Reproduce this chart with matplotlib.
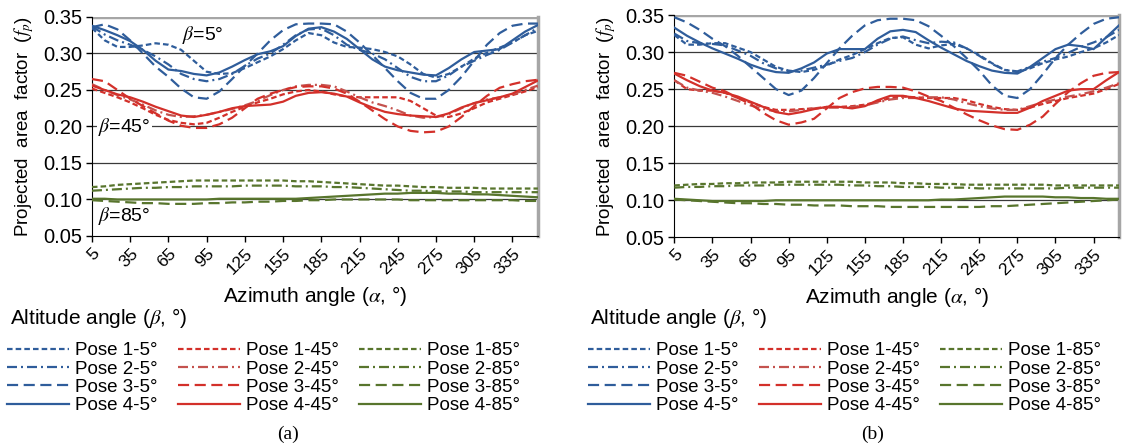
import numpy as np
import matplotlib
matplotlib.use("Agg")
import matplotlib.pyplot as plt
from matplotlib.lines import Line2D

plt.rcParams['font.family'] = ['Liberation Sans', 'DejaVu Sans']
plt.rcParams['mathtext.fontset'] = 'stix'

# azimuth angles (deg)
azimuth = np.arange(5, 360, 10)
xticks = np.arange(5, 340, 30)

# ---- panel (a) ----
a_b1 = [0.335, 0.318, 0.309, 0.309, 0.311, 0.314, 0.312, 0.305, 0.290, 0.275, 0.272, 0.273, 0.280, 0.288, 0.296, 0.306, 0.318, 0.328,
        0.325, 0.315, 0.309, 0.308, 0.306, 0.302, 0.296, 0.285, 0.272, 0.267, 0.272, 0.282, 0.293, 0.301, 0.308, 0.315, 0.325, 0.331]
a_b2 = [0.337, 0.326, 0.318, 0.312, 0.305, 0.296, 0.285, 0.272, 0.265, 0.262, 0.265, 0.272, 0.283, 0.293, 0.300, 0.312, 0.325, 0.333,
        0.334, 0.325, 0.312, 0.305, 0.300, 0.292, 0.280, 0.268, 0.262, 0.262, 0.270, 0.282, 0.290, 0.298, 0.305, 0.315, 0.325, 0.335]
a_b3 = [0.336, 0.340, 0.333, 0.318, 0.300, 0.282, 0.268, 0.252, 0.240, 0.238, 0.248, 0.265, 0.283, 0.300, 0.318, 0.332, 0.340, 0.341,
        0.341, 0.340, 0.330, 0.315, 0.298, 0.280, 0.262, 0.246, 0.238, 0.238, 0.250, 0.268, 0.290, 0.312, 0.328, 0.338, 0.341, 0.341]
a_b4 = [0.338, 0.332, 0.325, 0.317, 0.305, 0.290, 0.278, 0.276, 0.272, 0.270, 0.274, 0.282, 0.291, 0.299, 0.303, 0.310, 0.324, 0.334,
        0.336, 0.330, 0.320, 0.306, 0.292, 0.282, 0.277, 0.274, 0.271, 0.270, 0.280, 0.292, 0.302, 0.304, 0.306, 0.318, 0.330, 0.339]

a_r1 = [0.252, 0.246, 0.240, 0.233, 0.225, 0.216, 0.209, 0.205, 0.203, 0.205, 0.212, 0.220, 0.227, 0.233, 0.238, 0.244, 0.248, 0.250,
        0.248, 0.244, 0.241, 0.240, 0.240, 0.240, 0.240, 0.235, 0.225, 0.215, 0.213, 0.218, 0.225, 0.233, 0.238, 0.243, 0.248, 0.254]
a_r2 = [0.258, 0.250, 0.243, 0.237, 0.230, 0.222, 0.216, 0.213, 0.214, 0.216, 0.220, 0.224, 0.229, 0.235, 0.243, 0.250, 0.255, 0.257,
        0.257, 0.255, 0.248, 0.240, 0.233, 0.228, 0.222, 0.215, 0.212, 0.213, 0.217, 0.225, 0.232, 0.237, 0.240, 0.244, 0.250, 0.256]
a_r3 = [0.265, 0.262, 0.250, 0.238, 0.228, 0.218, 0.208, 0.201, 0.198, 0.198, 0.203, 0.212, 0.225, 0.238, 0.245, 0.250, 0.254, 0.255,
        0.255, 0.252, 0.245, 0.234, 0.222, 0.210, 0.200, 0.194, 0.192, 0.193, 0.200, 0.213, 0.228, 0.242, 0.253, 0.258, 0.262, 0.264]
a_r4 = [0.256, 0.250, 0.244, 0.240, 0.234, 0.227, 0.221, 0.215, 0.213, 0.216, 0.220, 0.225, 0.228, 0.229, 0.230, 0.234, 0.242, 0.246,
        0.247, 0.245, 0.241, 0.233, 0.226, 0.220, 0.217, 0.215, 0.214, 0.213, 0.218, 0.226, 0.232, 0.236, 0.240, 0.245, 0.254, 0.263]

a_g1 = [0.117, 0.118, 0.120, 0.121, 0.122, 0.123, 0.124, 0.125, 0.126, 0.126, 0.126, 0.126, 0.126, 0.126, 0.126, 0.126, 0.125, 0.125,
        0.124, 0.123, 0.122, 0.121, 0.120, 0.119, 0.119, 0.118, 0.117, 0.117, 0.116, 0.116, 0.116, 0.115, 0.115, 0.115, 0.115, 0.115]
a_g2 = [0.112, 0.113, 0.114, 0.115, 0.116, 0.116, 0.117, 0.117, 0.118, 0.118, 0.118, 0.118, 0.119, 0.119, 0.119, 0.119, 0.118, 0.118,
        0.118, 0.117, 0.117, 0.116, 0.115, 0.114, 0.113, 0.112, 0.112, 0.111, 0.111, 0.111, 0.110, 0.110, 0.110, 0.110, 0.110, 0.110]
a_g3 = [0.099, 0.098, 0.097, 0.096, 0.095, 0.095, 0.094, 0.094, 0.094, 0.095, 0.095, 0.096, 0.096, 0.097, 0.097, 0.098, 0.098, 0.099,
        0.099, 0.100, 0.100, 0.100, 0.100, 0.100, 0.100, 0.099, 0.099, 0.099, 0.099, 0.099, 0.099, 0.099, 0.099, 0.099, 0.098, 0.098]
a_g4 = [0.101, 0.101, 0.100, 0.100, 0.100, 0.100, 0.100, 0.100, 0.100, 0.100, 0.101, 0.101, 0.101, 0.101, 0.101, 0.101, 0.101, 0.102,
        0.103, 0.104, 0.105, 0.106, 0.107, 0.108, 0.108, 0.109, 0.109, 0.109, 0.108, 0.108, 0.107, 0.107, 0.106, 0.105, 0.104, 0.103]

# ---- panel (b) ----
b_b1 = [0.323, 0.310, 0.310, 0.312, 0.312, 0.306, 0.300, 0.290, 0.280, 0.275, 0.273, 0.276, 0.282, 0.290, 0.296, 0.304, 0.312, 0.319,
        0.320, 0.310, 0.305, 0.309, 0.311, 0.305, 0.296, 0.285, 0.276, 0.273, 0.278, 0.285, 0.290, 0.294, 0.300, 0.305, 0.313, 0.323]
b_b2 = [0.325, 0.315, 0.312, 0.311, 0.309, 0.302, 0.295, 0.285, 0.278, 0.274, 0.275, 0.279, 0.283, 0.288, 0.292, 0.300, 0.310, 0.318,
        0.321, 0.316, 0.312, 0.314, 0.313, 0.305, 0.295, 0.284, 0.276, 0.274, 0.280, 0.287, 0.292, 0.299, 0.307, 0.313, 0.320, 0.330]
b_b3 = [0.347, 0.340, 0.330, 0.318, 0.308, 0.295, 0.280, 0.265, 0.250, 0.242, 0.248, 0.265, 0.285, 0.305, 0.322, 0.336, 0.343, 0.345,
        0.345, 0.343, 0.335, 0.322, 0.308, 0.292, 0.275, 0.255, 0.241, 0.238, 0.250, 0.270, 0.292, 0.310, 0.325, 0.338, 0.345, 0.347]
b_b4 = [0.333, 0.322, 0.313, 0.305, 0.298, 0.291, 0.283, 0.277, 0.273, 0.272, 0.278, 0.286, 0.298, 0.304, 0.304, 0.304, 0.318, 0.328,
        0.330, 0.327, 0.316, 0.306, 0.297, 0.288, 0.281, 0.275, 0.272, 0.271, 0.280, 0.292, 0.304, 0.310, 0.308, 0.304, 0.320, 0.336]

b_r1 = [0.262, 0.250, 0.248, 0.248, 0.245, 0.238, 0.232, 0.226, 0.222, 0.222, 0.223, 0.224, 0.226, 0.226, 0.227, 0.229, 0.233, 0.238,
        0.240, 0.239, 0.238, 0.238, 0.238, 0.235, 0.230, 0.226, 0.223, 0.222, 0.225, 0.230, 0.234, 0.238, 0.241, 0.244, 0.250, 0.257]
b_r2 = [0.262, 0.252, 0.248, 0.245, 0.240, 0.234, 0.228, 0.223, 0.220, 0.220, 0.222, 0.224, 0.225, 0.225, 0.226, 0.228, 0.232, 0.236,
        0.238, 0.238, 0.239, 0.239, 0.236, 0.231, 0.227, 0.224, 0.222, 0.222, 0.227, 0.232, 0.236, 0.240, 0.243, 0.247, 0.252, 0.258]
b_r3 = [0.272, 0.268, 0.260, 0.252, 0.247, 0.238, 0.230, 0.218, 0.208, 0.202, 0.205, 0.210, 0.224, 0.238, 0.246, 0.251, 0.253, 0.253,
        0.252, 0.247, 0.240, 0.234, 0.225, 0.216, 0.208, 0.201, 0.196, 0.195, 0.202, 0.213, 0.230, 0.246, 0.258, 0.268, 0.272, 0.273]
b_r4 = [0.271, 0.262, 0.254, 0.248, 0.245, 0.240, 0.233, 0.226, 0.219, 0.216, 0.219, 0.223, 0.226, 0.226, 0.224, 0.227, 0.235, 0.241,
        0.241, 0.238, 0.234, 0.229, 0.224, 0.221, 0.220, 0.219, 0.218, 0.218, 0.225, 0.234, 0.241, 0.248, 0.250, 0.250, 0.262, 0.273]

b_g1 = [0.120, 0.121, 0.122, 0.122, 0.123, 0.123, 0.124, 0.124, 0.124, 0.125, 0.125, 0.125, 0.125, 0.125, 0.125, 0.124, 0.124, 0.124,
        0.123, 0.123, 0.122, 0.122, 0.122, 0.121, 0.121, 0.121, 0.121, 0.121, 0.121, 0.121, 0.120, 0.120, 0.120, 0.120, 0.120, 0.120]
b_g2 = [0.117, 0.118, 0.118, 0.119, 0.119, 0.120, 0.120, 0.120, 0.121, 0.121, 0.121, 0.121, 0.121, 0.121, 0.120, 0.120, 0.119, 0.119,
        0.118, 0.118, 0.118, 0.117, 0.117, 0.117, 0.116, 0.116, 0.116, 0.116, 0.116, 0.116, 0.116, 0.117, 0.117, 0.117, 0.117, 0.117]
b_g3 = [0.101, 0.100, 0.099, 0.098, 0.097, 0.096, 0.096, 0.095, 0.095, 0.094, 0.094, 0.093, 0.093, 0.093, 0.092, 0.092, 0.092, 0.091,
        0.091, 0.091, 0.091, 0.091, 0.091, 0.091, 0.091, 0.092, 0.092, 0.093, 0.094, 0.095, 0.096, 0.097, 0.098, 0.099, 0.100, 0.101]
b_g4 = [0.102, 0.101, 0.100, 0.099, 0.099, 0.099, 0.099, 0.099, 0.100, 0.100, 0.100, 0.100, 0.100, 0.100, 0.100, 0.100, 0.100, 0.100,
        0.100, 0.100, 0.100, 0.101, 0.101, 0.102, 0.103, 0.104, 0.105, 0.105, 0.105, 0.105, 0.104, 0.104, 0.103, 0.103, 0.102, 0.102]

blue = '#2f5d9b'
red = '#d3302a'
red_light = '#c4524e'
green = '#58752d'
lw = 1.6
# dash patterns (scaled by linewidth)
dashes = [(2.5, 1.4), (4.5, 1.8, 0.9, 1.8), (5.0, 2.5), None]

fig = plt.figure(figsize=(11.45, 4.46), dpi=100)
ax_a = fig.add_axes([0.0803, 0.4709, 0.3895, 0.491])
ax_b = fig.add_axes([0.5889, 0.4679, 0.3884, 0.4984])


def draw(ax, blues, reds, greens, leg_x):
    for series, col in ((blues, blue), (reds, red), (greens, green)):
        for i, y in enumerate(series):
            c = red_light if (col == red and i == 1) else col
            line, = ax.plot(azimuth, y, color=c, lw=lw, zorder=3)
            if dashes[i] is not None:
                line.set_dashes(dashes[i])
    ax.set_xlim(5, 355)
    ax.set_ylim(0.05, 0.35)
    ax.set_yticks(np.arange(0.05, 0.351, 0.05))
    ax.set_yticklabels(['%.2f' % v for v in np.arange(0.05, 0.351, 0.05)], fontsize=14.5)
    ax.set_xticks(xticks)
    ax.set_xticklabels([str(v) for v in xticks], fontsize=12.5, rotation=45,
                       ha='right', rotation_mode='anchor')
    ax.tick_params(axis='both', direction='out', length=4, width=1, color='black', pad=3)
    for yv in np.arange(0.10, 0.31, 0.05):
        ax.axhline(yv, color='#3a3a3a', lw=0.9, zorder=1)
    ax.axhline(0.35, color='#a6a6a6', lw=2.5, zorder=1)
    ax.spines['left'].set_color('black')
    ax.spines['bottom'].set_color('black')
    ax.spines['top'].set_visible(False)
    ax.spines['right'].set_color('#a6a6a6')
    ax.spines['right'].set_linewidth(2.5)
    ax.set_ylabel(r'Projected  area  factor  ($f_p$)', fontsize=13.5, labelpad=5)
    ax.set_xlabel(r'Azimuth angle ($\alpha$, °)', fontsize=15, labelpad=5)

    handles = []
    labels = []
    for col, ang in ((blue, '5'), (red, '45'), (green, '85')):
        for i in range(4):
            c = red_light if (col == red and i == 1) else col
            h = Line2D([], [], color=c, lw=lw)
            if dashes[i] is not None:
                h.set_dashes(dashes[i])
            handles.append(h)
            labels.append('Pose %d-%s°' % (i + 1, ang))
    fig.legend(handles, labels, ncol=3, loc='upper left',
               bbox_to_anchor=(leg_x / 1145, 1 - 342 / 446),
               frameon=False, fontsize=13.5, handlelength=3.3, handletextpad=0.35,
               columnspacing=1.05, labelspacing=0.07, borderaxespad=0, borderpad=0)


draw(ax_a, [a_b1, a_b2, a_b3, a_b4], [a_r1, a_r2, a_r3, a_r4], [a_g1, a_g2, a_g3, a_g4], 7)
draw(ax_b, [b_b1, b_b2, b_b3, b_b4], [b_r1, b_r2, b_r3, b_r4], [b_g1, b_g2, b_g3, b_g4], 588)

ax_a.text(76, 0.325, r'$\beta$=5°', fontsize=14, va='center', ha='left', zorder=4)
ax_a.text(10, 0.199, r'$\beta$=45°', fontsize=14, va='center', ha='left', zorder=4,
          bbox=dict(facecolor='white', edgecolor='none', pad=1))
ax_a.text(10, 0.077, r'$\beta$=85°', fontsize=14, va='center', ha='left', zorder=4)

fig.text(10 / 1145, 1 - 318 / 446, r'Altitude angle ($\beta$, °)', fontsize=15, va='center', ha='left')
fig.text(590 / 1145, 1 - 318 / 446, r'Altitude angle ($\beta$, °)', fontsize=15, va='center', ha='left')
fig.text(288 / 1145, 1 - 434 / 446, '(a)', fontsize=14, va='center', ha='center', family='Liberation Serif')
fig.text(873 / 1145, 1 - 434 / 446, '(b)', fontsize=14, va='center', ha='center', family='Liberation Serif')

fig.savefig('out.png', dpi=100)
